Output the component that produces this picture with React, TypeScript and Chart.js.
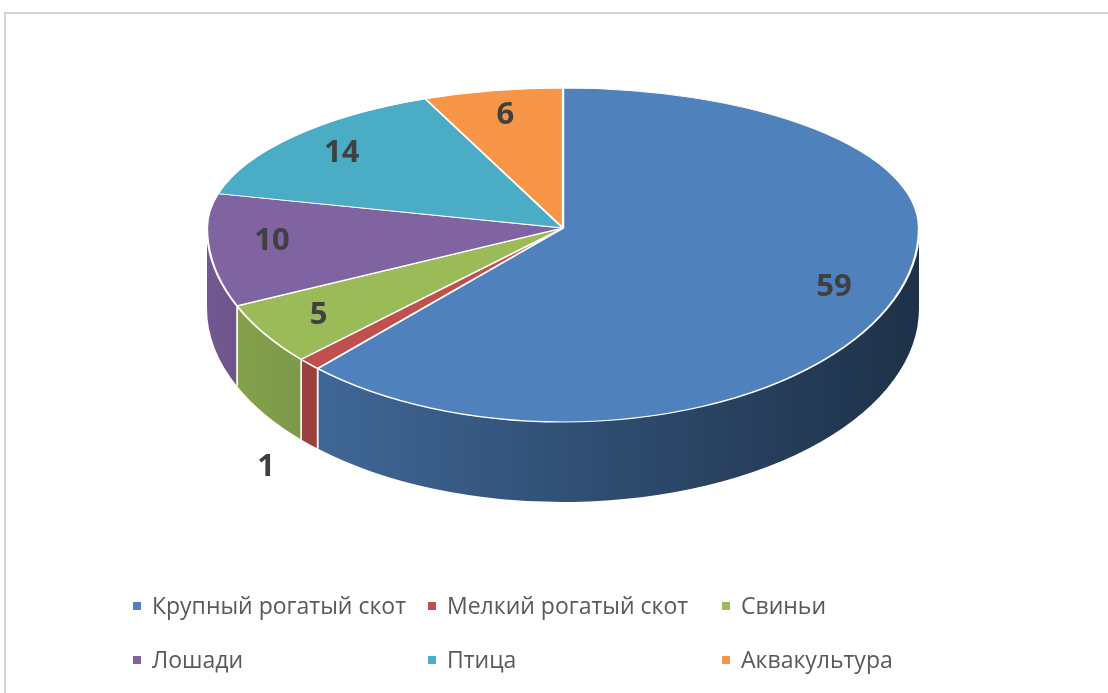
import React, { useEffect, useRef } from "react";
import { Chart, registerables } from "chart.js";

Chart.register(...registerables);

// ---- data ----
const categories = [
  "Крупный рогатый скот",
  "Мелкий рогатый скот",
  "Свиньи",
  "Лошади",
  "Птица",
  "Аквакультура",
];
const values = [59, 1, 5, 10, 14, 6];
const colors = ["#4F81BD", "#C0504D", "#9BBB59", "#8064A2", "#4BACC6", "#F79646"];

// ---- geometry / style ----
const W = 1108;
const H = 693;
const CX = 563;
const CY = 228;
const RX = 356;
const RY_TOP = 140;
const RY_BOTTOM = 194;
const DEPTH = 80;
const LABEL_FRAC = 0.82;
const LEGEND_COLS = [133, 428, 722];
const LEGEND_ROWS = [606, 660];

function shade(hex: string, k: number): string {
  const n = parseInt(hex.slice(1), 16);
  const r = Math.round(((n >> 16) & 255) * k);
  const g = Math.round(((n >> 8) & 255) * k);
  const b = Math.round((n & 255) * k);
  return `rgb(${r},${g},${b})`;
}

function ellipsePoint(angle: number, f: number) {
  const s = Math.sin(angle);
  const ry = s < 0 ? RY_TOP : RY_BOTTOM;
  return { x: CX + RX * f * Math.cos(angle), y: CY + ry * f * s };
}

const pie3d = {
  id: "pie3d",
  beforeDraw(chart: any) {
    const ctx = chart.ctx;
    ctx.save();
    ctx.fillStyle = "#ffffff";
    ctx.fillRect(0, 0, chart.width, chart.height);
    ctx.strokeStyle = "#d4d4d4";
    ctx.lineWidth = 2;
    ctx.strokeRect(5, 13, chart.width + 20, chart.height + 20);
    ctx.restore();
  },
  beforeDatasetsDraw(chart: any) {
    const ctx = chart.ctx;
    const meta = chart.getDatasetMeta(0);
    const arcs = meta.data as any[];

    // side walls (front half only)
    arcs.forEach((arc, i) => {
      const start = arc.startAngle;
      const end = arc.endAngle;
      const s = Math.max(start, 0);
      const e = Math.min(end, Math.PI);
      if (e <= s) return;
      ctx.save();
      ctx.beginPath();
      ctx.ellipse(CX, CY, RX, RY_BOTTOM, 0, s, e, false);
      ctx.ellipse(CX, CY + DEPTH, RX, RY_BOTTOM, 0, e, s, true);
      ctx.closePath();
      const g = ctx.createLinearGradient(CX - RX, 0, CX + RX, 0);
      g.addColorStop(0, shade(colors[i], 0.88));
      g.addColorStop(0.5, shade(colors[i], 0.62));
      g.addColorStop(1, shade(colors[i], 0.38));
      ctx.fillStyle = g;
      ctx.fill();
      ctx.strokeStyle = "rgba(255,255,255,0.95)";
      ctx.lineWidth = 1.6;
      const edges: number[] = [];
      if (s === start) edges.push(s);
      if (e === end) edges.push(e);
      edges.forEach((a) => {
        const x = CX + RX * Math.cos(a);
        const y = CY + RY_BOTTOM * Math.sin(a);
        ctx.beginPath();
        ctx.moveTo(x, y);
        ctx.lineTo(x, y + DEPTH);
        ctx.stroke();
      });
      ctx.restore();
    });

    // top face: two half-ellipses (pseudo perspective)
    const a0 = arcs[0];
    const ax = a0.x;
    const ay = a0.y;
    const R = a0.outerRadius;
    const halves: [number, boolean][] = [
      [RY_TOP, true],
      [RY_BOTTOM, false],
    ];
    halves.forEach(([ry, upper]) => {
      ctx.save();
      ctx.beginPath();
      if (upper) ctx.rect(0, 0, chart.width, CY + 0.6);
      else ctx.rect(0, CY, chart.width, chart.height - CY);
      ctx.clip();
      ctx.translate(CX, CY);
      ctx.scale(RX / R, ry / R);
      ctx.translate(-ax, -ay);
      arcs.forEach((a) => a.draw(ctx));
      ctx.restore();
    });
    return false;
  },
  afterDraw(chart: any) {
    const ctx = chart.ctx;
    const meta = chart.getDatasetMeta(0);
    const arcs = meta.data as any[];
    const total = values.reduce((p, c) => p + c, 0);
    ctx.save();
    // value labels
    ctx.fillStyle = "#404040";
    ctx.font = 'bold 31px "Open Sans"';
    ctx.textAlign = "center";
    ctx.textBaseline = "middle";
    arcs.forEach((arc, i) => {
      const mid = (arc.startAngle + arc.endAngle) / 2;
      const small = values[i] / total < 0.03;
      let p;
      if (small) {
        p = ellipsePoint(mid, 1.17);
        p.y += DEPTH;
      } else {
        p = ellipsePoint(mid, LABEL_FRAC);
      }
      ctx.fillText(String(values[i]), p.x, p.y);
    });
    // legend
    ctx.font = '23px "Open Sans"';
    ctx.textAlign = "left";
    categories.forEach((c, i) => {
      const x = LEGEND_COLS[i % 3];
      const y = LEGEND_ROWS[Math.floor(i / 3)];
      ctx.fillStyle = colors[i];
      ctx.fillRect(x, y - 4, 8, 8);
      ctx.fillStyle = "#595959";
      ctx.fillText(c, x + 19, y + 1);
    });
    ctx.restore();
  },
};

export default function App() {
  const ref = useRef<HTMLCanvasElement | null>(null);
  useEffect(() => {
    if (!ref.current) return;
    const chart = new Chart(ref.current, {
      type: "pie",
      data: {
        labels: categories,
        datasets: [
          {
            data: values,
            backgroundColor: colors,
            borderColor: "#ffffff",
            borderWidth: 2.2,
            clip: false,
          } as any,
        ],
      },
      options: {
        responsive: false,
        animation: false,
        events: [],
        layout: { padding: 0 },
        plugins: {
          legend: { display: false },
          tooltip: { enabled: false },
          title: { display: false },
        },
      },
      plugins: [pie3d as any],
    });
    return () => chart.destroy();
  }, []);
  return (
    <div style={{ position: "fixed", left: 0, top: 0, width: W, height: H, background: "#fff" }}>
      <canvas ref={ref} width={W} height={H} style={{ display: "block" }} />
    </div>
  );
}
